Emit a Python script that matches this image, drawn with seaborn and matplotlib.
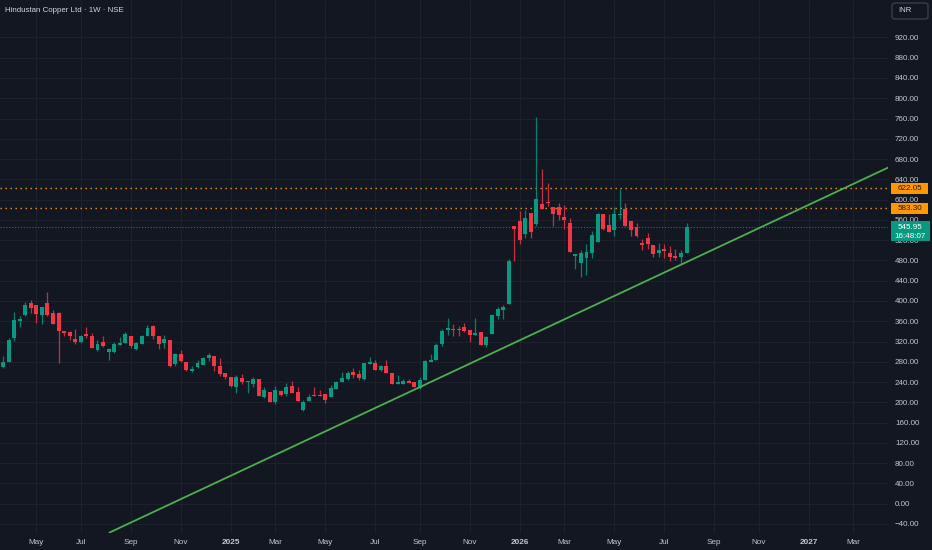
import matplotlib
matplotlib.use("Agg")
import matplotlib.pyplot as plt
import matplotlib.dates as mdates
import matplotlib.transforms as mtransforms
from matplotlib.patches import FancyBboxPatch, Rectangle
import numpy as np
import pandas as pd
import seaborn as sns

# ---- data (weekly candles, NSE: HINDCOPPER) ----
TITLE = "Hindustan Copper Ltd · 1W · NSE"
first_week = "2024-03-25"

opens = [269, 279, 326, 360, 372, 397, 392, 372, 396, 377,
         376, 341, 338, 325, 320, 335, 331, 304, 320, 300,
         300, 314, 318, 331, 306, 316, 331, 351, 331, 318,
         323, 275, 296, 279, 262, 269, 274, 288, 292, 272,
         258, 250, 231, 248, 240, 236, 246, 211, 221, 200,
         223, 216, 233, 220, 184, 203, 214, 215, 216, 211,
         226, 240, 246, 260, 255, 246, 276, 277, 263, 271,
         258, 237, 237, 243, 240, 228, 244, 279, 284, 315,
         343, 345, 345, 349, 343, 333, 338, 314, 335, 371,
         383, 395, 548, 557, 533, 573, 552, 592, 596, 586,
         586, 565, 553, 488, 475, 485, 494, 516, 571, 549,
         541, 570, 582, 557, 546, 515, 524, 511, 494, 503,
         494, 488, 487, 495]
highs = [292, 326, 378, 370, 398, 402, 393, 389, 417, 383,
         378, 341, 340, 344, 333, 349, 337, 323, 330, 308,
         320, 329, 338, 331, 320, 333, 353, 353, 331, 333,
         323, 298, 304, 279, 272, 283, 290, 297, 292, 287,
         258, 251, 254, 256, 243, 251, 246, 231, 221, 233,
         225, 239, 242, 231, 205, 216, 231, 225, 216, 234,
         243, 260, 262, 267, 264, 277, 290, 284, 273, 284,
         258, 254, 246, 246, 240, 251, 284, 295, 318, 345,
         366, 355, 351, 356, 343, 366, 338, 331, 375, 388,
         392, 482, 548, 577, 579, 573, 764, 661, 633, 586,
         594, 590, 564, 492, 501, 513, 538, 574, 571, 571,
         586, 620, 594, 557, 554, 523, 535, 511, 515, 513,
         509, 503, 501, 554]
lows = [267, 279, 321, 348, 371, 376, 356, 355, 371, 354,
        278, 330, 323, 315, 317, 327, 308, 302, 310, 284,
        297, 313, 317, 307, 304, 315, 330, 325, 306, 308,
        270, 271, 279, 261, 260, 267, 273, 282, 262, 252,
        246, 231, 218, 236, 219, 231, 213, 208, 200, 197,
        213, 213, 218, 203, 183, 203, 212, 213, 199, 211,
        226, 240, 244, 249, 244, 244, 276, 263, 262, 258,
        237, 237, 236, 238, 230, 227, 244, 279, 284, 312,
        333, 330, 330, 338, 319, 333, 314, 309, 335, 364,
        364, 395, 478, 513, 525, 525, 548, 581, 587, 548,
        559, 542, 496, 463, 447, 452, 485, 516, 540, 536,
        529, 562, 548, 529, 526, 500, 503, 487, 487, 485,
        478, 480, 472, 494]
closes = [279, 323, 363, 365, 393, 387, 374, 389, 372, 355,
          340, 337, 331, 319, 331, 331, 308, 316, 311, 306,
          316, 318, 335, 312, 317, 331, 347, 330, 316, 325,
          271, 295, 281, 263, 265, 277, 288, 294, 272, 256,
          250, 232, 250, 241, 243, 246, 213, 225, 201, 225,
          215, 231, 219, 203, 201, 211, 213, 213, 205, 228,
          240, 249, 258, 253, 249, 277, 279, 263, 271, 258,
          237, 240, 242, 239, 230, 244, 281, 284, 314, 340,
          347, 342, 342, 340, 333, 337, 314, 328, 373, 384,
          389, 478, 543, 521, 564, 537, 602, 581, 593, 571,
          569, 559, 496, 492, 495, 496, 531, 571, 542, 536,
          571, 572, 548, 540, 528, 511, 513, 492, 501, 499,
          487, 484, 494, 545.95]

trend_dates = ["2024-08-06", "2027-04-15"]
trend_prices = [-57.0, 664.0]
level_prices = [622.05, 583.30]
last_price = 545.95
countdown = "16:48:07"
currency = "INR"

price_ticks = list(range(-40, 921, 40))
tick_dates = ["2024-05-06", "2024-07-01", "2024-09-02", "2024-11-04",
              "2025-01-06", "2025-03-03", "2025-05-05", "2025-07-07",
              "2025-09-01", "2025-11-03", "2026-01-05", "2026-03-02",
              "2026-05-04", "2026-07-06", "2026-09-07", "2026-11-02",
              "2027-01-04", "2027-03-01"]
tick_labels = ["May", "Jul", "Sep", "Nov", "2025", "Mar", "May", "Jul",
               "Sep", "Nov", "2026", "Mar", "May", "Jul", "Sep", "Nov",
               "2027", "Mar"]

# ---- style ----
BG = "#131722"
GRID = "#1d212c"
TEXT = "#c3c6ce"
UP = "#089981"
DOWN = "#f23645"
ORANGE = "#ff9800"
TREND = "#4caf50"

sns.set_theme(style="dark", rc={
    "axes.facecolor": BG,
    "figure.facecolor": BG,
    "grid.color": GRID,
    "axes.edgecolor": BG,
})
plt.rcParams["font.family"] = ["Liberation Sans", "DejaVu Sans"]

W, H = 932, 550
fig = plt.figure(figsize=(W / 100, H / 100), dpi=100)
ax = fig.add_axes([0, 17 / H, 888 / W, 533 / H])

df = pd.DataFrame({
    "date": pd.date_range(first_week, periods=len(opens), freq="7D"),
    "open": opens, "high": highs, "low": lows, "close": closes,
})
df["x"] = mdates.date2num(df["date"])
df["up"] = df["close"] >= df["open"]
colors = np.where(df["up"], UP, DOWN)
body_lo = df[["open", "close"]].min(axis=1)
body_h = (df["close"] - df["open"]).abs().clip(lower=2.0)

# wicks + bodies
ax.vlines(df["x"], df["low"], df["high"], colors=colors, lw=0.9, alpha=0.8, zorder=3)
ax.bar(df["x"], body_h, bottom=body_lo, width=5.0, color=colors, linewidth=0, zorder=4)

# trend line
trend = pd.DataFrame({"x": mdates.date2num(pd.to_datetime(trend_dates)), "y": trend_prices})
sns.lineplot(data=trend, x="x", y="y", ax=ax, color=TREND, lw=1.3, zorder=5)

# horizontal levels
for p in level_prices:
    ax.axhline(p, color=ORANGE, lw=1.0, ls=(0, (1, 2.6)), zorder=2)
ax.axhline(last_price, color=UP, lw=0.8, ls=(0, (1, 1.6)), alpha=0.8, zorder=2)

# axes limits (px -> data)
x0 = mdates.date2num(pd.Timestamp(first_week))
ax.set_xlim(x0 - 3.8, x0 + 1114.8)
ax.set_ylim(-57.8, 993.9)

ax.set_xticks(mdates.date2num(pd.to_datetime(tick_dates)))
ax.set_xticklabels(tick_labels)
for lab in ax.get_xticklabels():
    if lab.get_text().isdigit():
        lab.set_fontweight("bold")
ax.yaxis.tick_right()
ax.set_yticks(price_ticks)
ax.set_yticklabels([f"{v:.2f}".replace("-", "\u2212") for v in price_ticks])
ax.tick_params(axis="y", length=0, pad=5, labelsize=5.8, colors=TEXT)
ax.tick_params(axis="x", length=0, pad=4, labelsize=5.9, colors=TEXT)
for lab in ax.get_yticklabels():
    lab.set_horizontalalignment("left")
ax.grid(True, color=GRID, lw=0.8)
ax.set_xlabel("")
ax.set_ylabel("")
for s in ax.spines.values():
    s.set_visible(False)

# price labels on the right scale (boxes sized in pixels, placed via the data scale)
pix = mtransforms.IdentityTransform()
box_x, box_w = 890.7, 37.5
for p in level_prices:
    yd = ax.transData.transform((x0, p))[1]
    fig.add_artist(Rectangle((box_x, yd - 5.5), box_w, 11, transform=pix,
                             fc=ORANGE, ec="none", zorder=10))
    fig.text(box_x + box_w / 2, yd, f"{p:.2f}", transform=pix, ha="center", va="center",
             fontsize=5.8, color="#131722", zorder=11)
yd = ax.transData.transform((x0, last_price))[1]
fig.add_artist(Rectangle((box_x, yd - 14.3), 39.3, 20.6, transform=pix,
                         fc=UP, ec="none", zorder=10))
fig.text(box_x + 19.6, yd, f"{last_price:.2f}", transform=pix, ha="center", va="center",
         fontsize=5.8, color="white", zorder=11)
fig.text(box_x + 19.6, yd - 9.5, countdown, transform=pix, ha="center", va="center",
         fontsize=5.8, color="white", zorder=11)

# header
fig.text(5 / W, 1 - 10 / H, TITLE, ha="left", va="center", fontsize=5.7, color="#d1d4dc")
fig.patches.append(FancyBboxPatch((892 / W, 1 - 19 / H), 36 / W, 16 / H,
                                  boxstyle="round,pad=0,rounding_size=0.004",
                                  transform=fig.transFigure, fc=BG, ec="#434651", lw=0.8))
fig.text(898 / W, 1 - 11 / H, currency, ha="left", va="center", fontsize=5.6, color="#d1d4dc")

fig.savefig("out.png", dpi=100, facecolor=BG)
